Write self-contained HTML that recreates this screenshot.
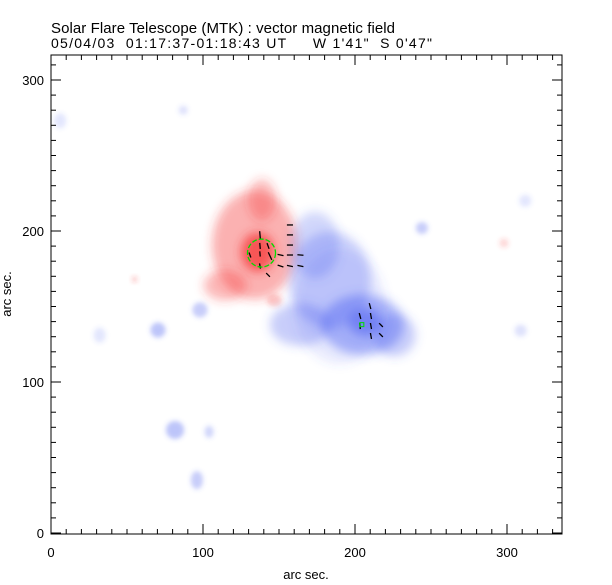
<!DOCTYPE html>
<html><head><meta charset="utf-8"><style>
html,body{margin:0;padding:0;background:#fff;}
svg{display:block;font-family:"Liberation Sans",sans-serif;}
</style></head><body>
<svg id="chart" width="612" height="585" viewBox="0 0 612 585" xmlns="http://www.w3.org/2000/svg">
<defs>
<filter id="blur" x="-50%" y="-50%" width="200%" height="200%"><feGaussianBlur stdDeviation="5"/></filter>
<filter id="blurs" x="-50%" y="-50%" width="200%" height="200%"><feGaussianBlur stdDeviation="2.5"/></filter>
<clipPath id="clip"><rect x="51" y="55" width="511" height="479"/></clipPath>
</defs>
<text x="51" y="33" font-size="15" fill="#000" textLength="344" lengthAdjust="spacing">Solar Flare Telescope (MTK) : vector magnetic field</text>
<text x="51" y="48" font-size="14" fill="#000" xml:space="preserve" textLength="381" lengthAdjust="spacing">05/04/03  01:17:37-01:18:43 UT     W 1'41"  S 0'47"</text>
<g id="blobs" clip-path="url(#clip)"></g>
<g id="vecs"></g>
<g id="axes"></g>
<text x="306" y="579" font-size="13" text-anchor="middle">arc sec.</text>
<text x="0" y="0" font-size="13" text-anchor="middle" transform="translate(11,294) rotate(-90)">arc sec.</text>
</svg>
<script>
// blob data (arcsec centre, radii in arcsec, signed strength)
const blobX = [134, 138.8, 136, 114.5, 147, 183.5, 173.7, 164, 205, 206.6, 226, 81.6, 96, 70.4, 98, 244, 104, 32, 312, 309, 6, 87, 55, 298, 190];
const blobY = [190.7, 220.5, 186, 164, 154, 167.5, 190.7, 138, 138, 139.7, 131, 68.2, 35, 134.4, 147.7, 202, 67, 131, 220, 134, 273, 280, 168, 192, 150];
const blobRX = [28, 9, 11, 14, 5, 27, 16, 20, 27, 11, 14, 6, 4, 5, 5, 4, 3, 4, 4, 4, 4, 3, 2, 3, 30];
const blobRY = [36, 14, 13, 10, 4, 32, 22, 14, 20, 9, 14, 6, 6, 5, 5, 4, 4, 5, 4, 4, 5, 3, 2, 3, 38];
const blobV = [0.38, 0.3, 0.72, 0.35, 0.25, -0.28, -0.25, -0.3, -0.42, -0.5, -0.3, -0.35, -0.3, -0.35, -0.3, -0.3, -0.25, -0.15, -0.15, -0.18, -0.15, -0.18, 0.25, 0.2, -0.12];
// vector data (arcsec centre, angle deg, length arcsec)
const vecX = [137.5, 157.2, 157.2, 157.2, 151, 157.2, 164.1, 151, 157.2, 164.1, 137.5, 142.8, 130.9, 137.5, 144.1, 137.5, 142.8, 203.3, 209.9, 210.5, 210.5, 210.5, 217.1, 217.1, 203.3];
const vecY = [197.4, 204, 197.4, 190.7, 184.1, 184.1, 184.1, 176.8, 176.8, 176.8, 190.1, 190.1, 184.1, 184.8, 183.4, 176.8, 170.9, 143.7, 150.3, 143.7, 137.1, 130.5, 137.7, 131.1, 137.1];
const vecA = [95, 0, 0, 0, -12, 0, -5, -18, -12, -12, 95, 110, 110, 95, 115, 100, 135, 105, 105, 100, 100, 100, 135, 135, 95];
const vecL = [5, 4, 4, 4, 4, 4, 4, 4, 4, 4, 4, 4, 3.5, 3.5, 5.5, 3.5, 3.5, 4, 4, 4, 4, 4, 3.5, 3.5, 4];
const xTicks = [0, 100, 200, 300];
const yTicks = [0, 100, 200, 300];

const L=51,R=562,T=55,B=534;
const X = v => L + v*1.52;
const Y = v => 533 - v*1.51;
const NS='http://www.w3.org/2000/svg';
function mk(tag, attrs, parent){const e=document.createElementNS(NS,tag);for(const k in attrs)e.setAttribute(k,attrs[k]);parent.appendChild(e);return e;}

const bg=document.getElementById('blobs');
for(let i=0;i<blobX.length;i++){
  const v=blobV[i], big=blobRX[i]>8;
  const e=mk('ellipse',{cx:X(blobX[i]),cy:Y(blobY[i]),rx:blobRX[i]*1.52,ry:blobRY[i]*1.51,
    fill: v>0?'rgb(245,50,50)':'rgb(70,90,240)', 'fill-opacity':Math.abs(v), filter: big?'url(#blur)':'url(#blurs)'},bg);
  
  
}
const vg=document.getElementById('vecs');
for(let i=0;i<vecX.length;i++){
  const a=vecA[i]*Math.PI/180, h=vecL[i]*1.52/2, cx=X(vecX[i]), cy=Y(vecY[i]);
  const ln=mk('line',{x1:cx-Math.cos(a)*h,y1:cy+Math.sin(a)*h,x2:cx+Math.cos(a)*h,y2:cy-Math.sin(a)*h,stroke:'#000','stroke-width':1.3},vg);
  
  
}
const c1=mk('circle',{cx:X(138.5),cy:Y(185.4),r:14,fill:'none',stroke:'#00dd00','stroke-width':1.3,'stroke-dasharray':'5 2'},vg);


const s1=mk('rect',{x:X(204.5)-2,y:Y(138)-2,width:4,height:4,fill:'none',stroke:'#00dd00','stroke-width':1},vg);



const ag=document.getElementById('axes');
const fr=mk('rect',{x:L,y:T,width:R-L,height:B-T,fill:'none',stroke:'#000','stroke-width':1},ag);


for(let v=0;X(v)<=R;v+=10){
  const major=v%100===0, len=major?10:5, x=X(v);
  mk('line',{x1:x,y1:B,x2:x,y2:B-len,stroke:'#000'},ag);
  mk('line',{x1:x,y1:T,x2:x,y2:T+len,stroke:'#000'},ag);
}
for(let v=0;Y(v)>=T;v+=10){
  const major=v%100===0, len=major?10:5, y=Y(v);
  mk('line',{x1:L,y1:y,x2:L+len,y2:y,stroke:'#000'},ag);
  mk('line',{x1:R,y1:y,x2:R-len,y2:y,stroke:'#000'},ag);
}
xTicks.forEach(v=>{
  const t=mk('text',{x:X(v),y:557,'font-size':13,'text-anchor':'middle'},ag);t.textContent=v;
  
  
});
yTicks.forEach(v=>{
  const t=mk('text',{x:44,y:Y(v)+5,'font-size':13,'text-anchor':'end'},ag);t.textContent=v;
  
  
});
</script>
</body></html>
